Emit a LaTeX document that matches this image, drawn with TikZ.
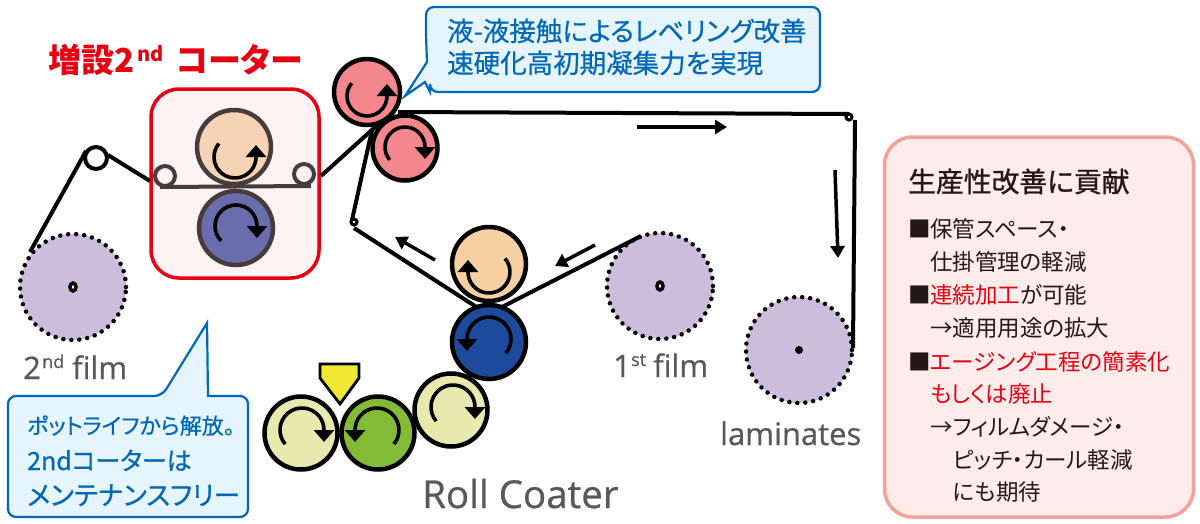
\documentclass[tikz,border=0pt]{standalone}
\usepackage{fontspec}
\setmainfont[RawFeature={+palt}]{Noto Sans CJK JP}
\newfontfamily\medf[RawFeature={+palt},FakeBold=0.5]{Noto Sans CJK JP}
\newfontfamily\hvyf[RawFeature={+palt},FakeBold=1]{Noto Sans CJK JP}
\newfontfamily\latinf[FakeBold=0.7]{Open Sans}
\usetikzlibrary{arrows.meta,shapes.geometric}
\definecolor{brownk}{HTML}{463C3C}
\definecolor{cpink}{HTML}{F4878D}
\definecolor{cpeach}{HTML}{F6D0A3}
\definecolor{cpeachb}{HTML}{F6D3B5}
\definecolor{cviolet}{HTML}{6A6DAC}
\definecolor{cblue}{HTML}{1D4A9C}
\definecolor{cpale}{HTML}{E8E9AE}
\definecolor{cgreen}{HTML}{82BC37}
\definecolor{cfilm}{HTML}{CCBDDC}
\definecolor{cyell}{HTML}{F0E832}
\definecolor{cred}{HTML}{E60012}
\definecolor{calloutb}{HTML}{0068B7}
\definecolor{calloutf}{HTML}{E6F4FD}
\definecolor{redboxf}{HTML}{FDF3F4}
\definecolor{panelb}{HTML}{F5A09A}
\definecolor{panelf}{HTML}{FDECEA}
\definecolor{tgrey}{HTML}{595757}
\definecolor{tdark}{HTML}{231815}
\tikzset{
 roller/.style={circle,draw=black,line width=4.5pt,minimum size=#1pt,inner sep=0pt},
 brroller/.style={circle,draw=brownk,line width=4.5pt,minimum size=#1pt,inner sep=0pt},
 hubring/.style={ellipse,draw=black,fill=white,line width=3.5pt,minimum width=6pt,minimum height=8pt,inner sep=0pt},
 film/.style={circle,fill=cfilm,minimum size=106pt,inner sep=0pt},
 filmedge/.style={draw=black,line width=4.5pt,line cap=round,dash pattern=on 0pt off 8pt},
 web/.style={draw=black,line width=4pt},
 dirarrow/.style={draw=black,line width=3.5pt,-{Triangle[length=12pt,width=14pt]}},
 rotarc/.style={draw=black,line width=3.6pt,-{Triangle[length=12pt,width=20pt]}},
 txt/.style={anchor=base west,inner sep=0pt},
 callout/.style={draw=calloutb,fill=calloutf,line width=2.2pt,rounded corners=8pt},
}
\newcommand{\rotccw}[5]{\pgfmathsetmacro{\rdir}{#5+90}\path[rotarc] ([shift={(#4:#3pt)}]#1,#2) arc[start angle=#4,end angle=#5,radius=#3pt] -- ++(\rdir:12pt);}
\newcommand{\rotcw}[5]{\pgfmathsetmacro{\rdir}{#5-90}\path[rotarc] ([shift={(#4:#3pt)}]#1,#2) arc[start angle=#4,end angle=#5,radius=#3pt] -- ++(\rdir:12pt);}
\begin{document}
\begin{tikzpicture}[x=1pt,y=-1pt]
\useasboundingbox (0,0) rectangle (1200,523);
% films
\node[film] (film2) at (73,287) {};
\node[film] (film1) at (660,286) {};
\node[film] (filmL) at (799,350) {};
\draw[filmedge] (film2) circle[radius=53pt];
\draw[filmedge] (film1) circle[radius=53pt];
\draw[filmedge] (filmL) circle[radius=53pt];
\node[hubring] (hub2) at (73,287) {};
\node[hubring] (hub1) at (660,286) {};
\node[circle,fill=black,minimum size=8pt,inner sep=0pt] (hubL) at (799,350) {};
% red box
\node[draw=cred,fill=redboxf,line width=3.5pt,rounded corners=28pt,minimum width=168pt,minimum height=189pt,inner sep=0pt] (redbox) at (235,183.5) {};
% web coordinates
\coordinate (a0) at (30,252);
\coordinate (a1) at (86,151);
\coordinate (a2) at (108,155);
\coordinate (a3) at (150,181);
\coordinate (a4) at (321,176);
\coordinate (nip) at (384,119);
\coordinate (b0) at (372,130);
\coordinate (b1) at (352,220);
\coordinate (b2) at (354,228);
\coordinate (b3) at (478,308);
\coordinate (b4) at (500,308);
\coordinate (b5) at (641,236);
\coordinate (c0) at (398,112);
\coordinate (c1) at (849,114);
\coordinate (c2) at (855,120);
\coordinate (c3) at (853,348);
% webs
\draw[web] (a0) -- (a1);
\draw[web] (a2) -- (a3);
\draw[web] (a4) -- (nip);
\draw[web] (b0) -- (b1);
\draw[web] (b2) -- (b3);
\draw[web] (b4) -- (b5);
\draw[web] (c0) -- (c1);
\draw[web] (c2) -- (c3);
% idlers
\node[circle,draw=black,fill=white,line width=4pt,minimum size=22pt,inner sep=0pt] (idl) at (96,158) {};
\node[circle,draw=black,fill=white,line width=3pt,minimum size=6pt,inner sep=0pt] (ids) at (354,222) {};
\node[circle,draw=black,fill=white,line width=3pt,minimum size=6pt,inner sep=0pt] (idr) at (849,117) {};
% box rollers
\node[brroller=74,fill=cpeachb] (r1) at (234,147) {};
\node[brroller=74,fill=cviolet] (r2) at (236,228) {};
\node[circle,draw=brownk,fill=redboxf,line width=4pt,minimum size=20pt,inner sep=0pt] (sl) at (165,176) {};
\node[circle,draw=brownk,fill=redboxf,line width=4pt,minimum size=20pt,inner sep=0pt] (sr) at (304,174) {};
\coordinate (wl) at (160,187);
\coordinate (wr) at (311,186);
\draw[draw=brownk,line width=4pt] (wl) -- (wr);
% nip rollers
\node[roller=66,fill=cpink] (p1) at (367,92) {};
\node[roller=65,fill=cpink] (p2) at (405,148) {};
% coater
\node[roller=74,fill=cpeach] (q1) at (489,264) {};
\node[roller=74,fill=cblue] (q2) at (489,342) {};
\node[roller=73,fill=cpale] (q3) at (451,410) {};
\node[roller=73,fill=cgreen] (q4) at (378,433) {};
\node[roller=73,fill=cpale] (q5) at (301,433) {};
% die
\draw[draw=black,fill=cyell,line width=2.8pt,line join=miter] (320,364) -- (359,364) -- (359,378) -- (340,404) -- (320,378) -- cycle;
% rotation arrows
\rotccw{367}{96}{20}{140}{360}
\rotcw{405}{147}{20}{220}{0}
\rotccw{235}{157}{21}{140}{360}
\rotcw{236}{226}{21}{225}{0}
\rotcw{489}{272}{21}{40}{-180}
\rotccw{489}{339}{22}{-40}{180}
\rotcw{453}{407}{22}{220}{0}
\rotccw{377}{430}{22}{-40}{180}
\rotcw{302}{430}{22}{220}{0}
% direction arrows
\coordinate (d1a) at (637,127); \coordinate (d1b) at (727,127);
\coordinate (d2a) at (835,170); \coordinate (d2b) at (838,258);
\coordinate (d3a) at (595,245); \coordinate (d3b) at (555,266);
\coordinate (d4a) at (435,260); \coordinate (d4b) at (395,237);
\draw[dirarrow] (d1a) -- (d1b);
\draw[dirarrow] (d2a) -- (d2b);
\draw[dirarrow] (d3a) -- (d3b);
\draw[dirarrow] (d4a) -- (d4b);
% callouts
\draw[callout] (426,36) -- (426,7) -- (820,7) -- (820,92) -- (430,92) [sharp corners] -- (430,92) -- (425,82) -- (405,96) -- (427,62) [rounded corners=8pt] -- cycle;
\draw[callout] (8,430) -- (8,396) -- (162,396) [sharp corners] -- (207,323) -- (208,396) [rounded corners=8pt] -- (248,396) -- (248,517) -- (8,517) -- cycle;
% right panel
\node[draw=panelb,fill=panelf,line width=3.5pt,rounded corners=28pt,minimum width=309pt,minimum height=380pt,inner sep=0pt] (panel) at (1039,327) {};
% texts
\node[txt,text=cred,font=\fontsize{33}{33}\selectfont\bfseries] (t1) at (48,72) {増設2};
\node[txt,text=cred,font=\fontsize{20}{20}\selectfont\bfseries] (t1s) at (137,61) {nd};
\node[txt,text=cred,font=\fontsize{33}{33}\selectfont\bfseries] (t1b) at (176,72) {コーター};
\node[txt,text=calloutb,font=\medf\fontsize{26.5}{26.5}\selectfont] (c1a) at (447,41) {液-液接触によるレベリング改善};
\node[txt,text=calloutb,font=\medf\fontsize{26.5}{26.5}\selectfont] (c1b) at (447,73) {速硬化高初期凝集力を実現};
\node[txt,text=calloutb,font=\medf\fontsize{22}{22}\selectfont] (c2a) at (27,434) {ポットライフから解放。};
\node[txt,text=calloutb,font=\medf\fontsize{25}{25}\selectfont] (c2b) at (27,470) {2ndコーターは};
\node[txt,text=calloutb,font=\medf\fontsize{26.5}{26.5}\selectfont] (c2c) at (27,505) {メンテナンスフリー};
\node[txt,text=tgrey,font=\latinf\fontsize{31}{31}\selectfont] (l1) at (23,379) {2};
\node[txt,text=tgrey,font=\latinf\fontsize{18}{18}\selectfont] (l1s) at (42,368) {nd};
\node[txt,text=tgrey,font=\latinf\fontsize{31}{31}\selectfont] (l1b) at (72,379) {film};
\node[txt,text=tgrey,font=\latinf\fontsize{31}{31}\selectfont] (l2) at (613,377) {1};
\node[txt,text=tgrey,font=\latinf\fontsize{18}{18}\selectfont] (l2s) at (631,366) {st};
\node[txt,text=tgrey,font=\latinf\fontsize{31}{31}\selectfont] (l2b) at (653,377) {film};
\node[txt,text=tgrey,font=\latinf\fontsize{31}{31}\selectfont] (l3) at (720,445) {laminates};
\node[txt,text=tgrey,font=\latinf\fontsize{38.5}{38.5}\selectfont] (l4) at (422,508) {Roll Coater};
\node[txt,text=tdark,font=\hvyf\fontsize{27.8}{27.8}\selectfont] (h) at (908,192) {生産性改善に貢献};
\tikzset{pl/.style={txt,text=tdark,font=\fontsize{22.5}{22.5}\selectfont},pr/.style={txt,text=cred,font=\fontsize{22.5}{22.5}\selectfont}}
\node[pl] (p1a) at (908,237) {■};
\node[pl] (p1t) at (930,237) {保管スペース・};
\node[pl] (p2t) at (930,270) {仕掛管理の軽減};
\node[pl] (p3a) at (908,303) {■};
\node[pl] (p3t) at (930,303) {\textcolor{cred}{連続加工}が可能};
\node[pl] (p4t) at (930,336) {→適用用途の拡大};
\node[pl] (p5a) at (908,370) {■};
\node[pr] (p5t) at (930,370) {エージング工程の簡素化};
\node[pr] (p6t) at (930,402) {もしくは廃止};
\node[pl] (p7t) at (930,435) {→フィルムダメージ・};
\node[pl] (p8t) at (953,468) {ピッチ・カール軽減};
\node[pl] (p9t) at (953,500) {にも期待};
\end{tikzpicture}
\end{document}
